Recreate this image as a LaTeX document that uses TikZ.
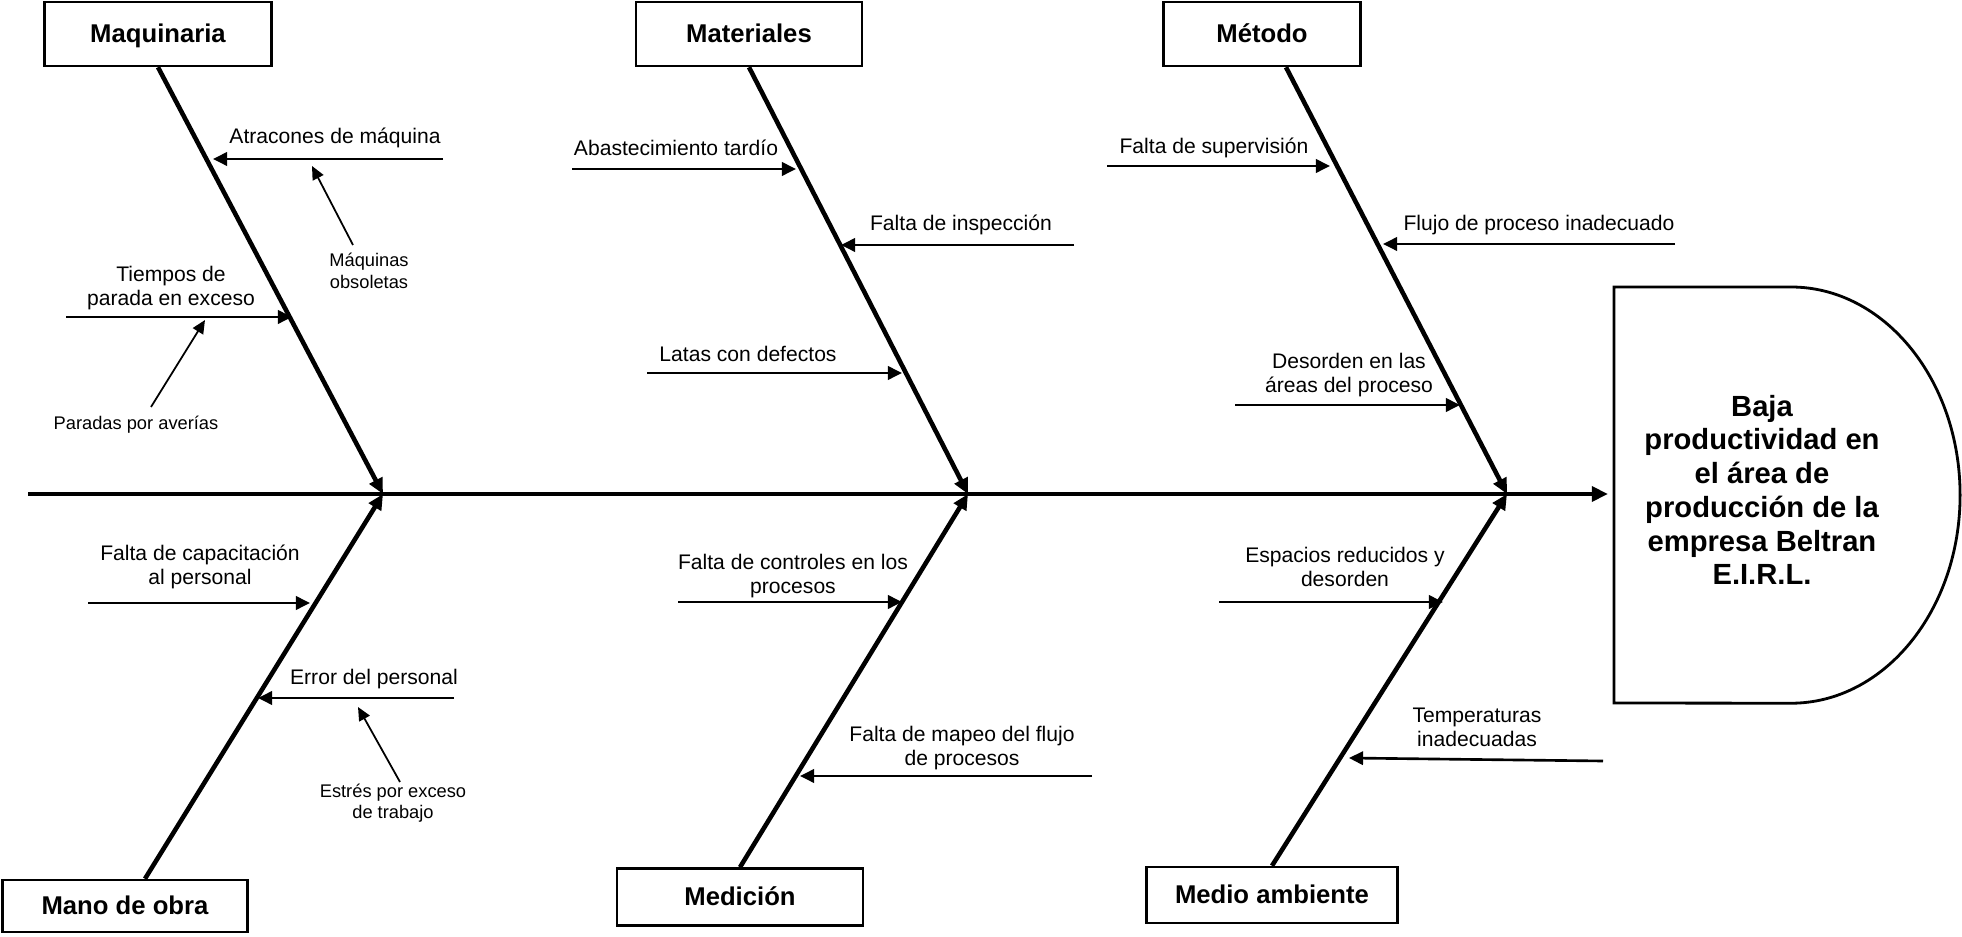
\documentclass[tikz,border=0pt]{standalone}
\usepackage{fontspec}
\setmainfont{Liberation Sans}
\usetikzlibrary{arrows.meta, calc}
\tikzset{
    catbox/.style={rectangle, draw=black, line width=0.7pt, inner sep=0pt, text height=0.72em, text depth=0.25em, font=\fontsize{7.3}{8.5}\selectfont\bfseries},
    causelabel/.style={align=center, inner sep=0pt, font=\fontsize{6}{6.8}\selectfont},
    sublabel/.style={align=center, inner sep=0pt, font=\fontsize{5.2}{6.1}\selectfont},
    headtext/.style={align=center, inner sep=0pt, font=\fontsize{8.3}{9.6}\selectfont\bfseries},
    spine/.style={line width=1.2pt, -{Triangle[length=4.6pt, width=4.2pt]}},
    bone/.style={line width=1.3pt, -{Triangle[length=4.4pt, width=4pt]}},
    causearrow/.style={line width=0.75pt, -{Triangle[length=4pt, width=3.8pt]}},
    subarrow/.style={line width=0.5pt, -{Triangle[length=3.8pt, width=3.4pt]}},
}

\begin{document}
\begin{tikzpicture}[x=0.01cm, y=-0.01cm]
    \useasboundingbox (0,0) rectangle (1962,937);

    % Efecto (cabeza)
    \draw[line width=0.8pt] (1614,287) -- (1791,287) arc[start angle=90, end angle=-90, x radius=1.69cm, y radius=2.08cm] -- (1614,703) -- cycle;
    \node[headtext] (efecto) at (1762,490) {Baja\\productividad en\\el área de\\producción de la\\empresa Beltran\\E.I.R.L.};

    % Espina central
    \coordinate (inicio) at (28,494);
    \coordinate (cabeza) at (1608,494);
    \coordinate (j1) at (383,494);
    \coordinate (j2) at (968,494);
    \coordinate (j3) at (1507,494);
    \draw[spine] (inicio) -- (cabeza);

    % Categorias
    \node[catbox, minimum width=2.27cm, minimum height=0.64cm] (maquinaria) at (158,34) {Maquinaria};
    \node[catbox, minimum width=2.26cm, minimum height=0.64cm] (materiales) at (749,34) {Materiales};
    \node[catbox, minimum width=1.97cm, minimum height=0.64cm] (metodo) at (1262,34) {Método};
    \node[catbox, minimum width=2.45cm, minimum height=0.52cm] (manoobra) at (125,906) {Mano de obra};
    \node[catbox, minimum width=2.46cm, minimum height=0.57cm] (medicion) at (740,897) {Medición};
    \node[catbox, minimum width=2.51cm, minimum height=0.56cm] (medioamb) at (1272,895) {Medio ambiente};

    \draw[bone] (maquinaria.south) -- (j1);
    \draw[bone] (materiales.south) -- (j2);
    \draw[bone] ($(metodo.south)+(24,0)$) -- (j3);
    \draw[bone] ($(manoobra.north)+(20,0)$) -- (j1);
    \draw[bone] (medicion.north) -- (j2);
    \draw[bone] (medioamb.north) -- (j3);

    % Maquinaria
    \node[causelabel] (atracones) at (335,138) {Atracones de máquina};
    \coordinate (atraconesA) at (443,159);
    \coordinate (atraconesB) at (213,159);
    \draw[causearrow] (atraconesA) -- (atraconesB);
    \node[sublabel] (obsoletas) at (369,271) {Máquinas\\obsoletas};
    \coordinate (obsoletasA) at (353,245);
    \coordinate (obsoletasB) at (312,166);
    \draw[subarrow] (obsoletasA) -- (obsoletasB);
    \node[causelabel] (tiempos) at (171,288) {Tiempos de\\parada en exceso};
    \coordinate (tiemposA) at (66,317);
    \coordinate (tiemposB) at (292,317);
    \draw[causearrow] (tiemposA) -- (tiemposB);
    \node[sublabel] (paradas) at (136,425) {Paradas por averías};
    \coordinate (paradasA) at (151,407);
    \coordinate (paradasB) at (205,320);
    \draw[subarrow] (paradasA) -- (paradasB);

    % Materiales
    \node[causelabel] (abastecimiento) at (676,148) {Abastecimiento tardío};
    \coordinate (abastecimientoA) at (572,169);
    \coordinate (abastecimientoB) at (796,169);
    \draw[causearrow] (abastecimientoA) -- (abastecimientoB);
    \node[causelabel] (inspeccion) at (961,225) {Falta de inspección};
    \coordinate (inspeccionA) at (1074,245);
    \coordinate (inspeccionB) at (841,245);
    \draw[causearrow] (inspeccionA) -- (inspeccionB);
    \node[causelabel] (latas) at (748,354) {Latas con defectos};
    \coordinate (latasA) at (647,373);
    \coordinate (latasB) at (902,373);
    \draw[causearrow] (latasA) -- (latasB);

    % Metodo
    \node[causelabel] (supervision) at (1214,148) {Falta de supervisión};
    \coordinate (supervisionA) at (1107,166);
    \coordinate (supervisionB) at (1330,166);
    \draw[causearrow] (supervisionA) -- (supervisionB);
    \node[causelabel] (flujo) at (1539,225) {Flujo de proceso inadecuado};
    \coordinate (flujoA) at (1675,244);
    \coordinate (flujoB) at (1383,244);
    \draw[causearrow] (flujoA) -- (flujoB);
    \node[causelabel] (desorden) at (1349,375) {Desorden en las\\áreas del proceso};
    \coordinate (desordenA) at (1235,405);
    \coordinate (desordenB) at (1460,405);
    \draw[causearrow] (desordenA) -- (desordenB);

    % Mano de obra
    \node[causelabel] (capacitacion) at (200,567) {Falta de capacitación\\al personal};
    \coordinate (capacitacionA) at (88,603);
    \coordinate (capacitacionB) at (310,603);
    \draw[causearrow] (capacitacionA) -- (capacitacionB);
    \node[causelabel] (error) at (374,679) {Error del personal};
    \coordinate (errorA) at (454,698);
    \coordinate (errorB) at (258,698);
    \draw[causearrow] (errorA) -- (errorB);
    \node[sublabel] (estres) at (393,803) {Estrés por exceso\\de trabajo};
    \coordinate (estresA) at (400,782);
    \coordinate (estresB) at (358,707);
    \draw[subarrow] (estresA) -- (estresB);

    % Medicion
    \node[causelabel] (controles) at (793,576) {Falta de controles en los\\procesos};
    \coordinate (controlesA) at (678,602);
    \coordinate (controlesB) at (902,602);
    \draw[causearrow] (controlesA) -- (controlesB);
    \node[causelabel] (mapeo) at (962,748) {Falta de mapeo del flujo\\de procesos};
    \coordinate (mapeoA) at (1092,776);
    \coordinate (mapeoB) at (800,776);
    \draw[causearrow] (mapeoA) -- (mapeoB);

    % Medio ambiente
    \node[causelabel] (espacios) at (1345,567) {Espacios reducidos y\\desorden};
    \coordinate (espaciosA) at (1219,602);
    \coordinate (espaciosB) at (1443,602);
    \draw[causearrow] (espaciosA) -- (espaciosB);
    \node[causelabel] (temperaturas) at (1477,727) {Temperaturas\\inadecuadas};
    \coordinate (temperaturasA) at (1603,761);
    \coordinate (temperaturasB) at (1349,758);
    \draw[causearrow] (temperaturasA) -- (temperaturasB);
\end{tikzpicture}
\end{document}
